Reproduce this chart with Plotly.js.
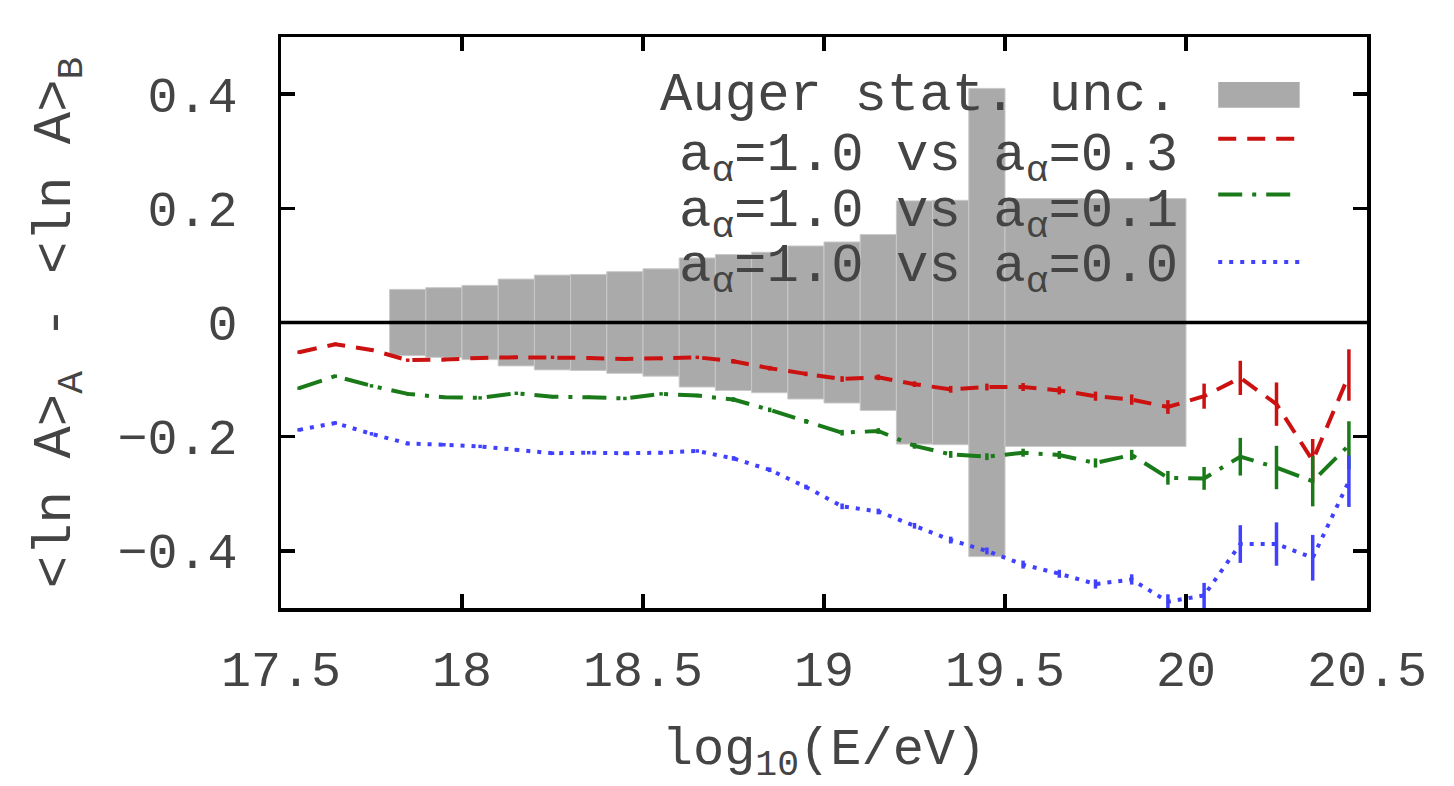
<!DOCTYPE html>
<html>
<head>
<meta charset="utf-8">
<script src="https://cdn.plot.ly/plotly-3.0.1.min.js"></script>
<style>html,body{margin:0;padding:0;background:#fff;}#chart{width:1454px;height:786px;}</style>
</head>
<body>
<div id="chart"></div>
<script>
// ---- data ----
const energyPoints = [17.55,17.65,17.75,17.85,17.95,18.05,18.15,18.25,18.35,18.45,
  18.55,18.65,18.75,18.85,18.95,19.05,19.15,19.25,19.35,19.45,
  19.55,19.65,19.75,19.85,19.95,20.05,20.15,20.25,20.35,20.45];

const diff03 = [-0.052,-0.038,-0.048,-0.066,-0.065,-0.062,-0.061,-0.061,-0.062,-0.064,
  -0.063,-0.061,-0.068,-0.080,-0.090,-0.099,-0.096,-0.108,-0.117,-0.113,
  -0.113,-0.119,-0.129,-0.135,-0.148,-0.129,-0.097,-0.143,-0.242,-0.092];
const err03 = [0.003,0.003,0.003,0.003,0.003,0.003,0.003,0.003,0.003,0.003,
  0.003,0.003,0.004,0.004,0.004,0.005,0.005,0.005,0.006,0.006,
  0.007,0.007,0.008,0.009,0.012,0.022,0.030,0.038,0.038,0.045];

const diff01 = [-0.115,-0.094,-0.111,-0.125,-0.131,-0.132,-0.124,-0.130,-0.131,-0.133,
  -0.125,-0.128,-0.135,-0.153,-0.173,-0.193,-0.190,-0.216,-0.231,-0.235,
  -0.228,-0.232,-0.246,-0.232,-0.272,-0.273,-0.235,-0.254,-0.278,-0.215];
const err01 = [0.003,0.003,0.003,0.003,0.003,0.003,0.003,0.003,0.003,0.003,
  0.003,0.003,0.004,0.004,0.004,0.005,0.005,0.005,0.006,0.006,
  0.007,0.007,0.008,0.009,0.012,0.020,0.033,0.038,0.044,0.042];

const diff00 = [-0.188,-0.176,-0.195,-0.212,-0.214,-0.217,-0.223,-0.229,-0.228,-0.229,
  -0.228,-0.225,-0.238,-0.258,-0.288,-0.322,-0.331,-0.356,-0.381,-0.400,
  -0.424,-0.440,-0.458,-0.450,-0.489,-0.478,-0.388,-0.388,-0.412,-0.278];
const err00 = [0.003,0.003,0.003,0.003,0.003,0.003,0.003,0.003,0.003,0.003,
  0.003,0.003,0.004,0.004,0.004,0.005,0.005,0.005,0.006,0.006,
  0.007,0.007,0.008,0.009,0.013,0.022,0.033,0.038,0.040,0.045];

// Auger statistical uncertainty bins (lower edge, upper edge, half-height)
const augerLow  = [17.8,17.9,18.0,18.1,18.2,18.3,18.4,18.5,18.6,18.7,18.8,18.9,19.0,19.1,19.2,19.3,19.4,19.5];
const augerHigh = [17.9,18.0,18.1,18.2,18.3,18.4,18.5,18.6,18.7,18.8,18.9,19.0,19.1,19.2,19.3,19.4,19.5,20.0];
const augerUnc  = [0.058,0.061,0.065,0.076,0.083,0.084,0.089,0.094,0.113,0.119,0.123,0.134,0.141,0.154,0.213,0.214,0.410,0.217];

const legendLabels = ['Auger stat. unc.',
  'a<sub>α</sub>=1.0 vs a<sub>α</sub>=0.3',
  'a<sub>α</sub>=1.0 vs a<sub>α</sub>=0.1',
  'a<sub>α</sub>=1.0 vs a<sub>α</sub>=0.0'];

// ---- style ----
const RED = '#cc1111', GREEN = '#1a7a1a', BLUE = '#4040ff', GRAY = '#aaaaaa';
const FONT = 'Liberation Mono, Courier New, monospace';
const TXT = '#444444';
const DASH_RED = '18px,11px', DASH_GREEN = '24px,10px,4px,10px', DASH_BLUE = '4px,7px';
const LW = 4;

const barCenters = augerLow.map((l,i)=> (l+augerHigh[i])/2);
const barWidths = augerLow.map((l,i)=> augerHigh[i]-l);

const traces = [
  {type:'bar', x: barCenters, y: augerUnc.map(u=>2*u), base: augerUnc.map(u=>-u),
   width: barWidths, marker:{color:GRAY, line:{color:'#c8c8c8', width:1}},
   showlegend:false, hoverinfo:'skip'},
  {type:'scatter', mode:'lines', x: energyPoints, y: diff03,
   line:{color:RED, width:LW, dash:DASH_RED},
   error_y:{type:'data', array: err03, visible:true, width:0, thickness:3.5, color:RED}, showlegend:false},
  {type:'scatter', mode:'lines', x: energyPoints, y: diff01,
   line:{color:GREEN, width:LW, dash:DASH_GREEN},
   error_y:{type:'data', array: err01, visible:true, width:0, thickness:3.5, color:GREEN}, showlegend:false},
  {type:'scatter', mode:'lines', x: energyPoints, y: diff00,
   line:{color:BLUE, width:LW, dash:DASH_BLUE},
   error_y:{type:'data', array: err00, visible:true, width:0, thickness:3.5, color:BLUE}, showlegend:false}
];

// custom legend (gnuplot style: right-aligned text, sample on right)
const rowY = [0.897, 0.800, 0.702, 0.605];
const textX = 0.828, sx0 = 0.863, sx1 = 0.938;
const annotations = legendLabels.map((t,i)=>({
  xref:'paper', yref:'paper', x:textX, y: rowY[i] + (i===0?0:-0.012), xanchor:'right', yanchor:'middle',
  text:t, showarrow:false, font:{family:FONT, size:54, color:TXT}
}));
const shapes = [
  {type:'rect', xref:'paper', yref:'paper', x0:sx0, x1:sx1, y0:0.876, y1:0.921, fillcolor:GRAY, line:{width:0}, layer:'above'},
  {type:'line', xref:'paper', yref:'paper', x0:sx0, x1:sx1, y0:0.822, y1:0.822, line:{color:RED, width:LW, dash:DASH_RED}, layer:'above'},
  {type:'line', xref:'paper', yref:'paper', x0:sx0, x1:sx1, y0:0.724, y1:0.724, line:{color:GREEN, width:LW, dash:DASH_GREEN}, layer:'above'},
  {type:'line', xref:'paper', yref:'paper', x0:sx0, x1:sx1, y0:0.606, y1:0.606, line:{color:BLUE, width:LW, dash:DASH_BLUE}, layer:'above'},
  {type:'line', xref:'paper', yref:'y', x0:0, x1:1, y0:0, y1:0, line:{color:'#000', width:3.5}, layer:'above'}
];

const axisCommon = {
  showline:true, linecolor:'#000', linewidth:3.5, mirror:'ticks',
  ticks:'inside', ticklen:14, tickwidth:3.5, tickcolor:'#000',
  showgrid:false, zeroline:false, layer:'above traces',
  tickfont:{family:FONT, size:50, color:TXT}
};

const layout = {
  width:1454, height:786,
  margin:{l:281, r:87, t:37, b:178},
  paper_bgcolor:'#fff', plot_bgcolor:'#fff',
  barmode:'overlay',
  xaxis: Object.assign({}, axisCommon, {
    range:[17.5,20.5], tickvals:[17.5,18,18.5,19,19.5,20,20.5], ticktext:['17.5','18','18.5','19','19.5','20','20.5'],
    ticklabelstandoff:14,
    title:{text:'log<sub>10</sub>(E/eV)', font:{family:FONT, size:52, color:TXT}, standoff:30}
  }),
  yaxis: Object.assign({}, axisCommon, {
    range:[-0.5,0.5], tickvals:[-0.4,-0.2,0,0.2,0.4], ticktext:['\u22120.4','\u22120.2','0','0.2','0.4'],
    ticklabelstandoff:30,
    title:{text:'&lt;ln A&gt;<sub>A</sub> - &lt;ln A&gt;<sub>B</sub>', font:{family:FONT, size:54, color:TXT}, standoff:30}
  }),
  annotations: annotations,
  shapes: shapes
};

Plotly.newPlot('chart', traces, layout, {staticPlot:true, displayModeBar:false});
</script>
</body>
</html>
